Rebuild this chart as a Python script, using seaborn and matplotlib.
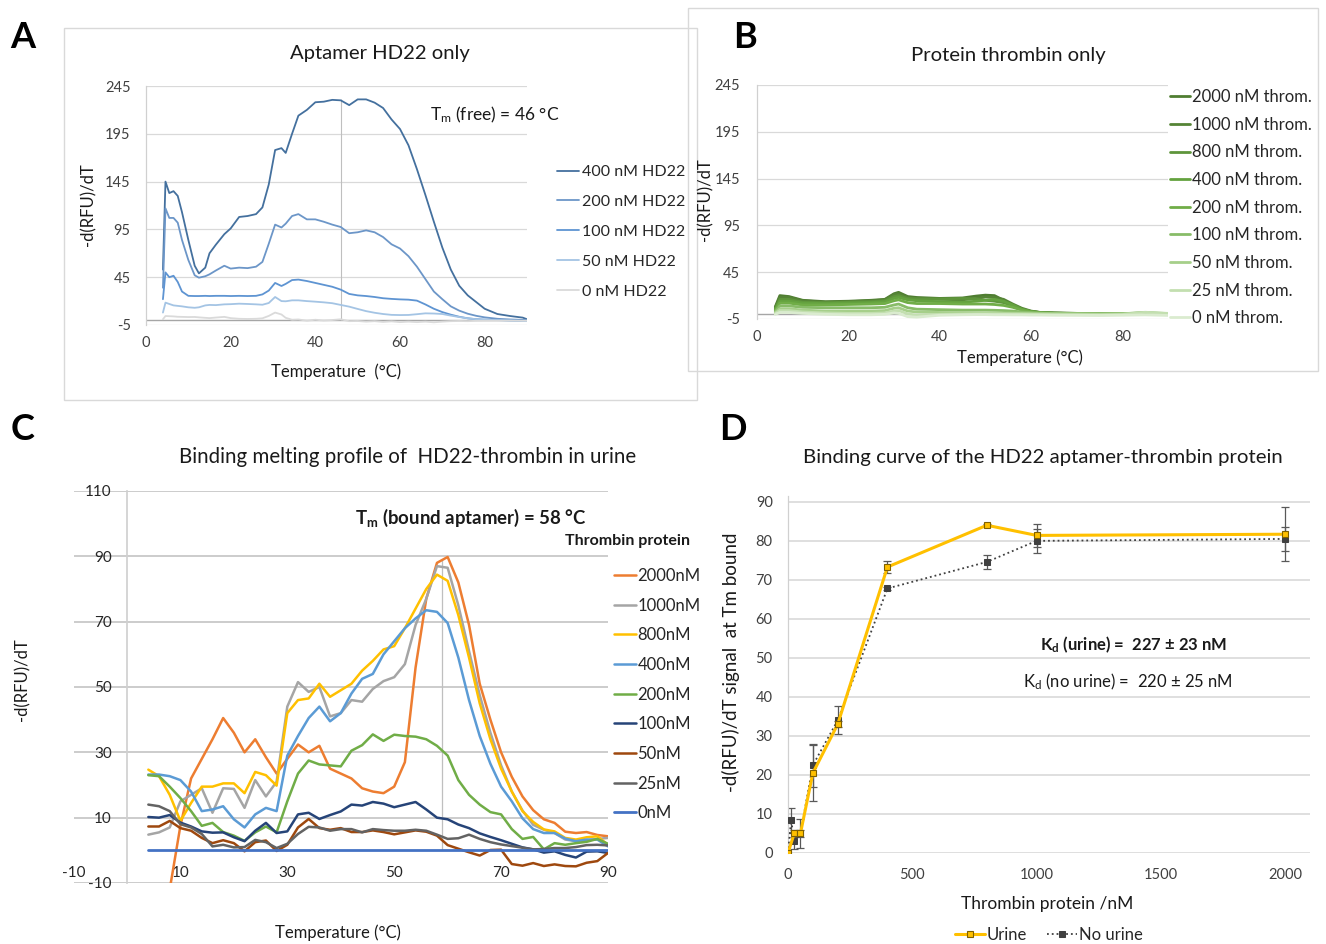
import matplotlib
matplotlib.use('Agg')
import matplotlib.pyplot as plt
from matplotlib.patches import Rectangle
import numpy as np
import seaborn as sns

# ---------------- panel A : aptamer HD22 only ----------------
temps_a = [4.0, 4.6, 5.5, 6.5, 7.5, 8.5, 10, 11.5, 12.5, 14, 15, 16.5, 18.5, 20, 22,
           24, 26, 27.5, 29, 30.5, 32, 33, 34.5, 36, 38, 40, 42, 44, 46, 48,
           50, 52, 54, 56, 58, 60, 62, 64, 66, 68, 70, 72, 74, 76, 78, 80, 83, 86, 89, 90]
a_400 = [53, 145, 133, 135, 130, 113, 84, 57, 49, 55, 70, 79, 90, 96, 108,
         109, 111, 118, 142, 178, 180, 175, 195, 214, 220, 228, 228.6, 230.5, 230, 225,
         231, 231, 227.6, 222, 210, 200, 183, 158, 131, 103, 76, 53, 36, 26, 19, 12, 6.5, 4.4, 2.7, 1]
a_200 = [34, 117, 107, 107, 102, 84, 63, 47, 44.5, 46, 48, 52, 57, 54, 55,
         54.5, 56, 61, 80, 100, 97, 101, 109, 111, 105.5, 105.5, 103, 100, 97.5, 91,
         92, 94, 92, 87, 79.4, 75, 67, 56, 43, 30, 22, 14.5, 10, 6.8, 4.6, 3, 1.5, 0.8, 0.3, 0.2]
a_100 = [22, 50, 45, 46.5, 40, 30, 25.5, 25.3, 25.3, 25.5, 25.3, 25.5, 25.5, 25.3, 25.5,
         25.3, 25.5, 27, 31, 39, 35.8, 38, 42, 42.5, 41, 39, 37, 35, 32, 27.5,
         26, 25.3, 24.3, 23, 22.3, 21.8, 21.5, 20.5, 16.5, 12, 8.5, 5.8, 3.6, 2, 1.1, 0.6, 0.2, -0.3, -0.8, -0.8]
a_50 = [8, 18.4, 17, 15.5, 15, 14.5, 13.5, 13, 13.5, 15.5, 16, 15.8, 16.6, 16.8, 17.3,
        17, 16.6, 16.2, 18, 24.3, 20, 19.8, 20.8, 20.8, 20, 19.4, 18.7, 17.8, 16, 14.2,
        11.8, 9.5, 7.8, 6.5, 5.6, 5.4, 5.5, 6.3, 7.2, 7, 6.5, 4.8, 3.3, 2, 1.1, 0.6, 0.1, -0.3, -0.8, -0.8]
a_0 = [1, 4.4, 4.2, 4, 3.6, 3.5, 3.3, 3.4, 3, 2.5, 2.2, 2.8, 3.5, 2.2, 1.5,
       1.3, 1.5, 2, 4.5, 8, 6, 2.5, 0.5, 0.8, -0.5, 0.5, -0.3, 0.2, 1, -1,
       -0.8, -1.5, -1, -1.8, -1.2, -2, -1.5, -2, -1.5, -2.2, -1.5, -1, -0.8, -1, -0.6, -0.5, -0.5, -0.4, -0.5, -0.5]
labels_a = ['400 nM HD22', '200 nM HD22', '100 nM HD22', '50 nM HD22', '0 nM HD22']
colors_a = ['#44709E', '#6C96C8', '#5E94D2', '#A4C4E4', '#DADADA']

# ---------------- panel B : thrombin only ----------------
temps_b = [4, 5, 7, 10, 15, 20, 25, 28, 30, 31, 33, 35, 40, 45, 48, 50, 52, 54, 56, 58,
           60, 62, 65, 70, 75, 80, 85, 90]
b_2000 = [8, 20, 19, 15, 13.5, 14, 15, 16, 22, 23.5, 19, 18, 17, 17.5, 19.5, 20.5, 20, 15, 10, 5.5,
          3, 2, 1.5, 1, 0.8, 0.5, 0.8, 0.2]
b_1000 = [7, 18, 18, 14.5, 13, 13.5, 14.5, 15.5, 21, 22, 18, 17, 16, 15.5, 17, 18.5, 18, 16, 11, 6.5,
          3.5, 2, 1.3, 1, 0.7, 0.4, 0.9, 0.2]
b_800 = [6, 16, 16, 13, 12.5, 13, 13.5, 14.5, 19, 20, 17, 16.5, 16.5, 17, 16.5, 15, 14, 12.5, 9, 5,
         3, 1.8, 1.2, 0.8, 0.6, 0.5, 1, 0.3]
b_400 = [5, 14, 14, 12, 11.5, 12, 12.5, 13.5, 17, 18, 15.5, 14.5, 13.5, 13, 14, 15, 16, 14, 10, 5.5,
         3, 1.8, 1.2, 0.8, 0.6, 0.6, 1.2, 0.4]
b_200 = [4, 12, 12, 10, 10, 10.5, 11, 11.5, 14.5, 15.5, 12.5, 11.5, 11.5, 11, 11, 11, 10.5, 9.5, 7.5, 4.5,
         2.5, 1.5, 1, 0.7, 0.5, 0.6, 1.4, 0.5]
b_100 = [3, 9, 9, 7.5, 7, 7, 7, 7.5, 10, 11, 7, 5.5, 5, 4.5, 4.5, 4.5, 4.3, 4, 3.5, 2.5,
         2, 1.3, 1, 0.7, 0.5, 0.7, 1.6, 0.6]
b_50 = [2, 6, 6, 4.5, 3.5, 3.5, 3.5, 4, 6.5, 7, 3.5, 2.5, 2, 1.8, 1.6, 1.5, 1.5, 1.4, 1.3, 1.2,
        1, 0.8, 0.7, 0.5, 0.3, 0.6, 2, 0.8]
b_25 = [1, 4, 4, 2.5, 1.5, 1, 1, 1.5, 3.5, 4, 0.5, -1, 0, 0.3, 0.5, 0.5, 0.5, 0.4, 0.3, 0.2,
        0, -0.2, -0.3, -0.5, -0.6, -0.2, 2.2, 1]
b_0 = [0, 2, 2, 1, 0, -0.5, -0.5, 0, 1.5, 1, -2.5, -3, -1, -0.5, -0.3, -0.3, -0.5, -0.5, -0.6, -0.6,
       -0.8, -0.8, -1, -1, -1.2, -1, -0.6, -1.2]
labels_b = ['2000 nM throm.', '1000 nM throm.', '800 nM throm.', '400 nM throm.', '200 nM throm.',
            '100 nM throm.', '50 nM throm.', '25 nM throm.', '0 nM throm.']
colors_b = ['#4F7D31', '#558436', '#5E953B', '#64A23F', '#70AD47', '#88BC68', '#A6CF8A', '#C3DFB0', '#DAEBCF']

# ---------------- panel C : HD22-thrombin in urine ----------------
temps_c = [4, 6, 8, 10, 12, 14, 16, 18, 20, 22, 24, 26, 28, 30, 32, 34, 36, 38, 40, 42, 44, 46,
           48, 50, 52, 54, 56, 58, 60, 62, 64, 66, 68, 70, 72, 74, 76, 78, 80, 82, 84, 86, 88, 90]
c_2000 = [np.nan, np.nan, -12, 7.5, 22, 28, 34, 40.5, 36, 30, 34, 28.5, 23.5, 28, 32.4, 30, 32, 25, 23.5, 22, 19, 18,
          17.5, 19.5, 27, 56, 77, 88, 89.8, 82, 69, 51, 40, 30, 22.5, 16.5, 12.3, 9.5, 8.4, 5.7, 5.3, 5.6, 4.7, 4.3]
c_1000 = [4.8, 5.5, 7, 15, 17, 19, 11.5, 19, 18.8, 13, 21.5, 16.5, 21, 44, 51.5, 48.5, 50, 41, 42, 46, 45.5, 49.4,
          51.8, 53, 57, 69, 77, 87, 86.5, 75, 61, 47.5, 36, 26, 18, 12.2, 7.8, 6.3, 5.3, 3.3, 2.8, 3, 3.5, 3.8]
c_800 = [24.7, 22.7, 17, 9, 14.5, 19.5, 19.5, 20.5, 20.5, 17.5, 24, 23, 19.8, 42, 46, 46.5, 51, 47, 49, 51, 55, 58,
         61.5, 62.5, 68, 74, 80, 84.4, 82.5, 72, 59, 45, 34, 25, 18, 12, 8.7, 6.4, 5.8, 3.8, 3.3, 4, 4.3, 1.7]
c_400 = [23.2, 23.2, 22.7, 21.5, 18, 12, 12.5, 13.5, 9.5, 7, 11, 13, 12, 29, 35, 40.5, 44, 39.5, 42, 48, 52.5, 54,
         60, 64, 68, 71, 73.5, 73, 69.6, 59, 46, 35, 26.5, 19.5, 15, 9.8, 6.5, 5.3, 5.3, 3.6, 2.8, 3.3, 3.3, 1.2]
c_200 = [23, 22.7, 19.5, 16, 12, 7.5, 8.4, 5.6, 4.5, 2.9, 5.5, 7.3, 5.5, 15, 23.5, 27.5, 26.3, 26, 25.7, 30.5, 32.2, 35.5,
         33.5, 35.4, 35, 34.8, 34, 32, 29, 21.5, 17, 14, 11.7, 11, 6.5, 3.5, 4.1, 0.3, 2.2, 1.7, 2.2, 2.6, 3.5, 2]
c_100 = [10.2, 10, 10.8, 8.5, 7.3, 5.8, 5.4, 5.5, 4, 2.8, 6, 8.4, 5.3, 5.8, 11, 11.5, 9.6, 10.8, 11.9, 14, 13.7, 14.8,
         14.3, 13.2, 14, 14.8, 12.5, 10, 9.5, 7.9, 6.8, 5.2, 4.1, 3.1, 2, 0.9, 0.3, -0.7, -0.3, -1.4, -2.2, -0.4, -0.3, -0.8]
c_50 = [7.3, 7.3, 9, 6.8, 6, 3.8, 2.2, 3.1, 2.2, -0.3, 2.5, 3, -0.2, 1.7, 7, 9.6, 6.8, 6.3, 6.8, 5.6, 5.6, 6.1,
        5.6, 4.9, 5.5, 6.1, 5.7, 4.5, 1.6, 0.5, -0.6, -1.6, 0.1, 0.2, -4.2, -4.7, -3.9, -4.8, -4.3, -4.8, -4.9, -3.8, -3.3, -0.8]
c_25 = [14, 13.5, 12, 8, 7, 5, 1.2, 1.7, 0.9, 1, 3.2, 2.5, 0.7, 2, 5, 7.2, 7, 6, 6.5, 6.5, 5.5, 6.5,
        6.2, 6, 6, 6.3, 6, 4.8, 3.5, 3.7, 4.8, 3.5, 2.5, 1.8, 1.3, 0.8, 0.3, 0.4, 0.7, 0.7, 1, 1.6, 1.7, 1.5]
c_0_temps = [4, 90]
c_0 = [0, 0]
labels_c = ['2000nM', '1000nM', '800nM', '400nM', '200nM', '100nM', '50nM', '25nM', '0nM']
colors_c = ['#ED7D31', '#A5A5A5', '#FFC000', '#5B9BD5', '#70AD47', '#264478', '#9E480E', '#636363', '#4472C4']

# ---------------- panel D : binding curve ----------------
conc_urine = [0, 25, 50, 100, 200, 400, 800, 1000, 2000]
sig_urine = [0, 5, 5, 20.5, 33, 73.3, 84, 81.4, 81.7]
err_urine = [0, 0.8, 0.8, 7.3, 0.8, 1.5, 0.3, 3, 6.9]
conc_nourine = [0, 12.5, 25, 50, 100, 200, 400, 800, 1000, 2000]
sig_nourine = [0, 8.4, 3.2, 5, 22.5, 34, 67.8, 74.6, 80, 80.5]
err_nourine = [0, 3.2, 2.2, 3.6, 5.5, 3.6, 0.4, 1.7, 3, 3.1]

sns.set_theme(style='white')
plt.rcParams['font.family'] = ['Lato', 'DejaVu Sans']
plt.rcParams['mathtext.fontset'] = 'custom'
plt.rcParams['mathtext.rm'] = 'Lato'
plt.rcParams['mathtext.bf'] = 'Lato:bold'
plt.rcParams['mathtext.it'] = 'Lato:italic'
plt.rcParams['axes.unicode_minus'] = False

W, H = 1326, 944
fig = plt.figure(figsize=(W / 100, H / 100), dpi=100)
fig.patch.set_facecolor('white')


def px_box(l, t, r, b):
    return [l / W, 1 - b / H, (r - l) / W, (b - t) / H]


def ftext(x, y, s, **kw):
    kw.setdefault('ha', 'center')
    kw.setdefault('va', 'center')
    kw.setdefault('color', '#1a1a1a')
    return fig.text(x / W, 1 - y / H, s, **kw)


def excel_style(ax, grid_color='#D9D9D9', grid_lw=0.9):
    for s in ['top', 'right', 'bottom']:
        ax.spines[s].set_visible(False)
    ax.spines['left'].set_color('#D0D0D0')
    ax.spines['left'].set_linewidth(0.9)
    ax.grid(axis='y', color=grid_color, lw=grid_lw)
    ax.grid(axis='x', visible=False)
    ax.set_axisbelow(True)
    ax.set_facecolor('none')


# frames round A and B
for l, t, r, b in [(64, 28, 697, 400), (688, 8, 1318, 371)]:
    x0, y0, w, h = px_box(l, t, r, b)
    fig.add_artist(Rectangle((x0, y0), w, h, transform=fig.transFigure, fill=False,
                             edgecolor='#D9D9D9', lw=1.0))

# ---- A ----
ax_a = fig.add_axes(px_box(146, 86, 527, 325))
for vals, lab, col in zip([a_400, a_200, a_100, a_50, a_0], labels_a, colors_a):
    sns.lineplot(x=temps_a, y=vals, ax=ax_a, color=col, lw=1.3, label=lab)
ax_a.axhline(0, color='#A6A6A6', lw=1.0, zorder=1.5)
ax_a.vlines(46, 0, 231, color='#BFBFBF', lw=0.8, zorder=1.6)
ax_a.set_xlim(0, 90)
ax_a.set_ylim(-5, 245)
ax_a.set_yticks([-5, 45, 95, 145, 195, 245])
ax_a.set_xticks([0, 20, 40, 60, 80])
excel_style(ax_a)
ax_a.tick_params(axis='y', length=0, pad=11, labelsize=10.5, labelcolor='#404040')
ax_a.tick_params(axis='x', length=0, pad=8, labelsize=10.5, labelcolor='#404040')
ax_a.legend(loc='upper left', bbox_to_anchor=(557 / W, 1 - 165 / H), bbox_transform=fig.transFigure,
            frameon=False, fontsize=11.5, handlelength=1.4, handletextpad=0.15, labelspacing=0.98,
            borderpad=0, borderaxespad=0)
ftext(380, 53, 'Aptamer HD22 only', fontsize=14.6)
ftext(430, 115, r'T$_\mathrm{m}$ (free) = 46 °C', fontsize=12.5, ha='left')
ftext(88, 205, '-d(RFU)/dT', fontsize=12, rotation=90)
ftext(336, 372, 'Temperature  (°C)', fontsize=12)
ftext(23, 37, 'A', fontsize=26, fontweight='bold', color='black')

# ---- B ----
ax_b = fig.add_axes(px_box(757, 85, 1168, 319))
for vals, lab, col in zip([b_2000, b_1000, b_800, b_400, b_200, b_100, b_50, b_25, b_0], labels_b, colors_b):
    sns.lineplot(x=temps_b, y=vals, ax=ax_b, color=col, lw=2.0, label=lab)
ax_b.axhline(0, color='#A6A6A6', lw=1.0, zorder=1.5)
ax_b.set_xlim(0, 90)
ax_b.set_ylim(-5, 245)
ax_b.set_yticks([-5, 45, 95, 145, 195, 245])
ax_b.set_xticks([0, 20, 40, 60, 80])
excel_style(ax_b)
ax_b.tick_params(axis='y', length=0, pad=12, labelsize=10.5, labelcolor='#404040')
ax_b.tick_params(axis='x', length=0, pad=8, labelsize=10.5, labelcolor='#404040')
ax_b.legend(loc='upper left', bbox_to_anchor=(1170 / W, 1 - 89 / H), bbox_transform=fig.transFigure,
            frameon=False, fontsize=12, handlelength=1.2, handletextpad=0.1, labelspacing=0.7,
            borderpad=0, borderaxespad=0)
ftext(1008, 55, 'Protein thrombin only', fontsize=14.6)
ftext(705, 200, '-d(RFU)/dT', fontsize=12, rotation=90)
ftext(1020, 358, 'Temperature (°C)', fontsize=12)
ftext(745, 37, 'B', fontsize=26, fontweight='bold', color='black')

# ---- C ----
ax_c = fig.add_axes(px_box(73.5, 491, 608, 883))
c_series = [c_2000, c_1000, c_800, c_400, c_200, c_100, c_50, c_25]
for vals, lab, col in zip(c_series, labels_c[:-1], colors_c[:-1]):
    sns.lineplot(x=temps_c, y=vals, ax=ax_c, color=col, lw=1.8, label=lab)
sns.lineplot(x=c_0_temps, y=c_0, ax=ax_c, color=colors_c[-1], lw=2.0, label=labels_c[-1], zorder=3)
ax_c.vlines(59, 0, 89, color='#BFBFBF', lw=0.9, zorder=1.6)
ax_c.set_xlim(-10, 90)
ax_c.set_ylim(-10, 110)
ax_c.set_yticks([-10, 10, 30, 50, 70, 90, 110])
ax_c.set_xticks([-10, 10, 30, 50, 70, 90])
for s in ['top', 'right']:
    ax_c.spines[s].set_visible(False)
ax_c.spines['left'].set_position(('data', 0))
ax_c.spines['left'].set_color('#D0D0D0')
ax_c.spines['bottom'].set_position(('data', 0))
ax_c.spines['bottom'].set_color('none')
ax_c.grid(axis='y', color='#CCCCCC', lw=1.4)
ax_c.grid(axis='x', visible=False)
ax_c.set_axisbelow(True)
ax_c.tick_params(axis='y', length=0, pad=11, labelsize=11, labelcolor='#262626')
ax_c.tick_params(axis='x', length=0, pad=11, labelsize=11, labelcolor='#262626')
ax_c.legend(loc='upper left', bbox_to_anchor=(614 / W, 1 - 568 / H), bbox_transform=fig.transFigure,
            frameon=False, fontsize=12, handlelength=1.3, handletextpad=0.1, labelspacing=0.82,
            borderpad=0, borderaxespad=0)
ftext(408, 457, 'Binding melting profile of  HD22-thrombin in urine', fontsize=14.8)
ftext(355, 518, r'T$_\mathbf{m}$ (bound aptamer) = 58 °C', fontsize=13.4, fontweight='bold', ha='left')
ftext(565, 541, 'Thrombin protein', fontsize=11.5, fontweight='bold', ha='left')
ftext(22, 680, '-d(RFU)/dT', fontsize=12, rotation=90)
ftext(338, 933, 'Temperature (°C)', fontsize=12)
ftext(23, 430, 'C', fontsize=26, fontweight='bold', color='black')

# ---- D ----
ax_d = fig.add_axes(px_box(788, 496, 1310, 853))
cu = np.array(conc_urine)
su = np.array(sig_urine)
eu = np.array(err_urine)
cn = np.array(conc_nourine)
sn_ = np.array(sig_nourine)
en = np.array(err_nourine)
ax_d.errorbar(cn[en > 0], sn_[en > 0], yerr=en[en > 0], fmt='none', ecolor='#595959',
              elinewidth=0.9, capsize=3, capthick=0.9, zorder=2)
ax_d.errorbar(cu[eu > 0], su[eu > 0], yerr=eu[eu > 0], fmt='none', ecolor='#595959',
              elinewidth=0.9, capsize=3, capthick=0.9, zorder=2)
sns.lineplot(x=conc_nourine, y=sig_nourine, ax=ax_d, color='#404040', lw=1.3, ls=':',
             marker='s', markersize=5, markeredgecolor='#404040', label='No urine', zorder=3)
sns.lineplot(x=conc_urine, y=sig_urine, ax=ax_d, color='#FFC000', lw=2.2,
             marker='s', markersize=4, markerfacecolor='#FFC000', markeredgecolor='#7F6000',
             markeredgewidth=0.8, label='Urine', zorder=4)
ax_d.set_xlim(0, 2100)
ax_d.set_ylim(0, 91.5)
ax_d.set_yticks(list(range(0, 91, 10)))
ax_d.set_xticks([0, 500, 1000, 1500, 2000])
excel_style(ax_d, grid_color='#D9D9D9', grid_lw=1.2)
ax_d.tick_params(axis='y', length=0, pad=11, labelsize=10.5, labelcolor='#404040')
ax_d.tick_params(axis='x', length=0, pad=11, labelsize=10.5, labelcolor='#404040')
handles, labs = ax_d.get_legend_handles_labels()
order = [labs.index('Urine'), labs.index('No urine')]
ax_d.legend([handles[i] for i in order], [labs[i] for i in order], loc='center left',
            bbox_to_anchor=(955 / W, 1 - 935 / H), bbox_transform=fig.transFigure, ncol=2,
            frameon=False, fontsize=12, handlelength=1.8, handletextpad=0.1, columnspacing=1.2,
            borderpad=0, borderaxespad=0)
ftext(1043, 457, 'Binding curve of the HD22 aptamer-thrombin protein', fontsize=14.7)
ftext(1134, 645, r'K$_\mathbf{d}$ (urine) =  227 ± 23 nM', fontsize=12, fontweight='bold')
ftext(1128, 682, r'K$_\mathrm{d}$ (no urine) =  220 ± 25 nM', fontsize=12)
ftext(731, 662, '-d(RFU)/dT signal  at Tm bound', fontsize=13.5, rotation=90)
ftext(1047, 904, 'Thrombin protein /nM', fontsize=12.5)
ftext(733, 430, 'D', fontsize=26, fontweight='bold', color='black')

fig.savefig('out.png', dpi=100, facecolor='white')
